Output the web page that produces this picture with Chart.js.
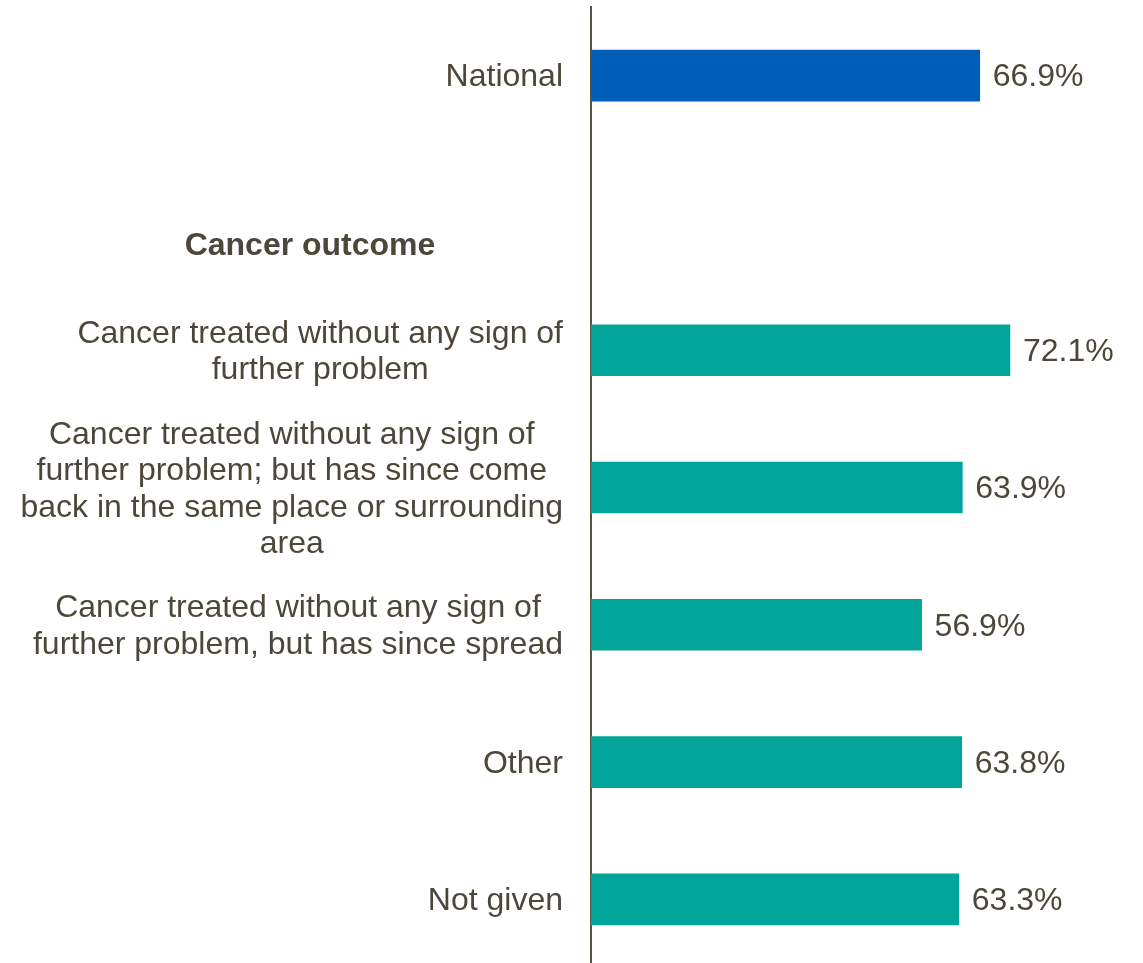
<!DOCTYPE html>
<html>
<head>
<meta charset="utf-8">
<script src="https://cdn.jsdelivr.net/npm/chart.js@4/dist/chart.umd.min.js"></script>
<style>
  html, body { margin: 0; padding: 0; background: #ffffff; overflow: hidden; }
  #wrap { width: 1143px; height: 970px; }
</style>
</head>
<body>
<div id="wrap"><canvas id="chart" width="1143" height="970"></canvas></div>
<script>
// Categories (multi-line labels as arrays); the empty slot holds the group header
const categories = [
  'National',
  '',
  ['Cancer treated without any sign of', 'further problem'],
  ['Cancer treated without any sign of', 'further problem; but has since come', 'back in the same place or surrounding', 'area'],
  ['Cancer treated without any sign of', 'further problem, but has since spread'],
  'Other',
  'Not given'
];
const values = [66.9, null, 72.1, 63.9, 56.9, 63.8, 63.3];
const groupHeader = 'Cancer outcome';
const groupHeaderIndex = 1;

const NATIONAL_COLOR = '#005EB8';
const GROUP_COLOR = '#00A499';
const TEXT_COLOR = '#4d473b';
const AXIS_COLOR = '#5a5246';
const FONT = '"Liberation Sans", Arial, sans-serif';
const TEXT_SHIFT = 2; // small baseline nudge for the label text

const barColors = categories.map((c, i) => i === 0 ? NATIONAL_COLOR : GROUP_COLOR);

// Category labels: each block's lines centred on each other, block right-aligned
const labelPlugin = {
  id: 'labels',
  afterDraw(chart) {
    const ctx = chart.ctx;
    const y = chart.scales.y;
    const rightEdge = y.right - 28;
    const lineH = 36.5;
    ctx.save();
    ctx.fillStyle = TEXT_COLOR;
    ctx.textBaseline = 'middle';
    ctx.textAlign = 'center';
    ctx.font = '32px ' + FONT;
    categories.forEach((lab, i) => {
      const lines = Array.isArray(lab) ? lab : [lab];
      if (!lines.join('')) return;
      const w = Math.max(...lines.map(l => ctx.measureText(l).width));
      const cx = rightEdge - w / 2;
      const cy = y.getPixelForValue(i) + TEXT_SHIFT;
      const top = cy - (lines.length - 1) * lineH / 2;
      lines.forEach((l, k) => ctx.fillText(l, cx, top + k * lineH));
    });
    // group header
    ctx.font = 'bold 32px ' + FONT;
    const step = y.getPixelForValue(1) - y.getPixelForValue(0);
    const hy = y.getPixelForValue(groupHeaderIndex) + 0.23 * step + TEXT_SHIFT;
    ctx.fillText(groupHeader, rightEdge - 253, hy);
    ctx.restore();
  },
  afterDatasetsDraw(chart) {
    const ctx = chart.ctx;
    const meta = chart.getDatasetMeta(0);
    ctx.save();
    ctx.fillStyle = TEXT_COLOR;
    ctx.font = '32px ' + FONT;
    ctx.textBaseline = 'middle';
    ctx.textAlign = 'left';
    meta.data.forEach((bar, i) => {
      const v = values[i];
      if (v === null || v === undefined) return;
      ctx.fillText(v.toFixed(1) + '%', bar.x + 13, bar.y + TEXT_SHIFT);
    });
    ctx.restore();
  }
};

new Chart(document.getElementById('chart'), {
  type: 'bar',
  data: {
    labels: categories,
    datasets: [{
      data: values,
      backgroundColor: barColors,
      borderWidth: 0,
      barThickness: 51
    }]
  },
  options: {
    indexAxis: 'y',
    responsive: false,
    animation: false,
    layout: { padding: { top: 7, bottom: 2, left: 0, right: 0 } },
    plugins: {
      legend: { display: false },
      tooltip: { enabled: false }
    },
    scales: {
      x: {
        display: false,
        min: 0,
        max: 95
      },
      y: {
        ticks: { display: false },
        grid: { display: false },
        border: { display: true, color: AXIS_COLOR, width: 2 },
        afterFit(scale) { scale.width = 591; }
      }
    }
  },
  plugins: [labelPlugin]
});
</script>
</body>
</html>
